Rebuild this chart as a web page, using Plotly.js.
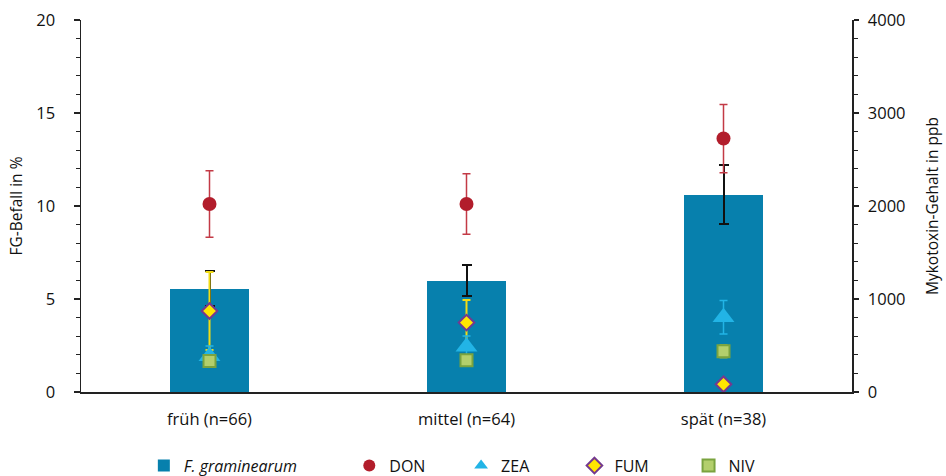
<!DOCTYPE html>
<html>
<head>
<meta charset="utf-8">
<script src="https://cdn.plot.ly/plotly-3.0.1.min.js"></script>
<style>html,body{margin:0;padding:0;background:#fff;}#chart{width:946px;height:476px;}</style>
</head>
<body>
<div id="chart"></div>
<script>
// Categories (x axis tick labels)
const categories = ['früh (n=66)', 'mittel (n=64)', 'spät (n=38)'];

// F. graminearum infestation (%) – left axis
const fgValues = [5.56, 5.99, 10.61];
const fgErrors = [0.94, 0.84, 1.6];

// Mycotoxin contents (ppb) – right axis
const donValues = [2022, 2022, 2725];
const donErrors = [357, 325, 367];
const zeaValues = [384, 486, 803];
const zeaErrors = [110, 116, 180];
const fumValues = [871, 746, 83];
const fumErrors = [419, 243, 0];
const nivValues = [333, 341, 437];
const nivErrors = [45, 45, 70];

const FONT = 'Open Sans, Noto Sans, sans-serif';

const traces = [
  {
    type: 'bar', name: '<i>F. graminearum</i>', x: categories, y: fgValues,
    marker: {color: '#0780ad'}, width: 0.311, yaxis: 'y', legend: 'legend',
    error_y: {type: 'data', array: fgErrors, visible: true, color: '#111', thickness: 2, width: 5}
  },
  {
    type: 'scatter', mode: 'markers', name: 'DON', x: categories, y: donValues, yaxis: 'y2', legend: 'legend2',
    marker: {symbol: 'circle', size: 14, color: '#b21d2b'},
    error_y: {type: 'data', array: donErrors, visible: true, color: '#c33a46', thickness: 1.5, width: 4}
  },
  {
    type: 'scatter', mode: 'markers', name: 'FUM', x: categories, y: fumValues, yaxis: 'y2', legend: 'legend4',
    marker: {symbol: 'diamond', size: 12, color: '#ffe600', line: {color: '#74398f', width: 2}},
    error_y: {type: 'data', array: fumErrors, visible: true, color: '#f2dc14', thickness: 2, width: 4}
  },
  {
    type: 'scatter', mode: 'markers', name: 'ZEA', x: categories, y: zeaValues, yaxis: 'y2', legend: 'legend3',
    marker: {symbol: 'triangle-up', size: 19, color: '#22b4e6'},
    error_y: {type: 'data', array: zeaErrors, visible: true, color: '#22b4e6', thickness: 1.5, width: 4}
  },
  {
    type: 'scatter', mode: 'markers', name: 'NIV', x: categories, y: nivValues, yaxis: 'y2', legend: 'legend5',
    marker: {symbol: 'square', size: 12, color: '#b3cf6c', line: {color: '#7aa33f', width: 2}},
    error_y: {type: 'data', array: nivErrors, visible: true, color: '#8fb24e', thickness: 1.5, width: 4}
  }
];

const legendBase = {orientation: 'h', yanchor: 'middle', xanchor: 'left', y: -0.198,
  font: {family: FONT, size: 16, color: '#111'}, bgcolor: 'rgba(0,0,0,0)', itemwidth: 30, itemsizing: 'constant'};
const legendXs = [0.0815, 0.348, 0.493, 0.640, 0.788];

const layout = {
  width: 946, height: 476,
  margin: {l: 81, r: 94, t: 20, b: 84, autoexpand: false},
  paper_bgcolor: '#fff', plot_bgcolor: '#fff',
  font: {family: FONT, size: 16, color: '#111'},
  bargap: 0,
  xaxis: {
    type: 'category', range: [-0.5, 2.5], showline: true, linecolor: '#222', linewidth: 2,
    ticks: '', showgrid: false, zeroline: false, fixedrange: true, automargin: false,
    ticklabelstandoff: 11,
    tickfont: {family: FONT, size: 16.5, color: '#111'}
  },
  yaxis: {
    range: [0, 20], dtick: 5, tick0: 0, showline: true, linecolor: '#222', linewidth: 1.5,
    ticks: 'outside', ticklen: 6, tickwidth: 1.5, tickcolor: '#222', automargin: false,
    ticklabelstandoff: 15,
    minor: {dtick: 1, ticks: 'outside', ticklen: 4, tickwidth: 1, tickcolor: '#222'},
    showgrid: false, zeroline: false,
    tickfont: {family: FONT, size: 16.5, color: '#111'},
    title: {text: 'FG-Befall in %', font: {family: FONT, size: 15.5, color: '#111'}, standoff: 10}
  },
  yaxis2: {
    overlaying: 'y', side: 'right', range: [0, 4000], dtick: 1000, tick0: 0,
    showline: true, linecolor: '#222', linewidth: 1.5, automargin: false,
    ticks: 'outside', ticklen: 5, tickwidth: 1.5, tickcolor: '#222',
    ticklabelstandoff: 6,
    minor: {dtick: 200, ticks: 'outside', ticklen: 4, tickwidth: 1, tickcolor: '#222'},
    showgrid: false, zeroline: false,
    tickfont: {family: FONT, size: 16.5, color: '#111'},
    title: {text: 'Mykotoxin-Gehalt in ppb', font: {family: FONT, size: 15.5, color: '#111'}, standoff: 22}
  },
  showlegend: true
};
['legend', 'legend2', 'legend3', 'legend4', 'legend5'].forEach((k, i) => {
  layout[k] = Object.assign({}, legendBase, {x: legendXs[i]});
});

Plotly.newPlot('chart', traces, layout, {displayModeBar: false, staticPlot: true});
</script>
</body>
</html>
